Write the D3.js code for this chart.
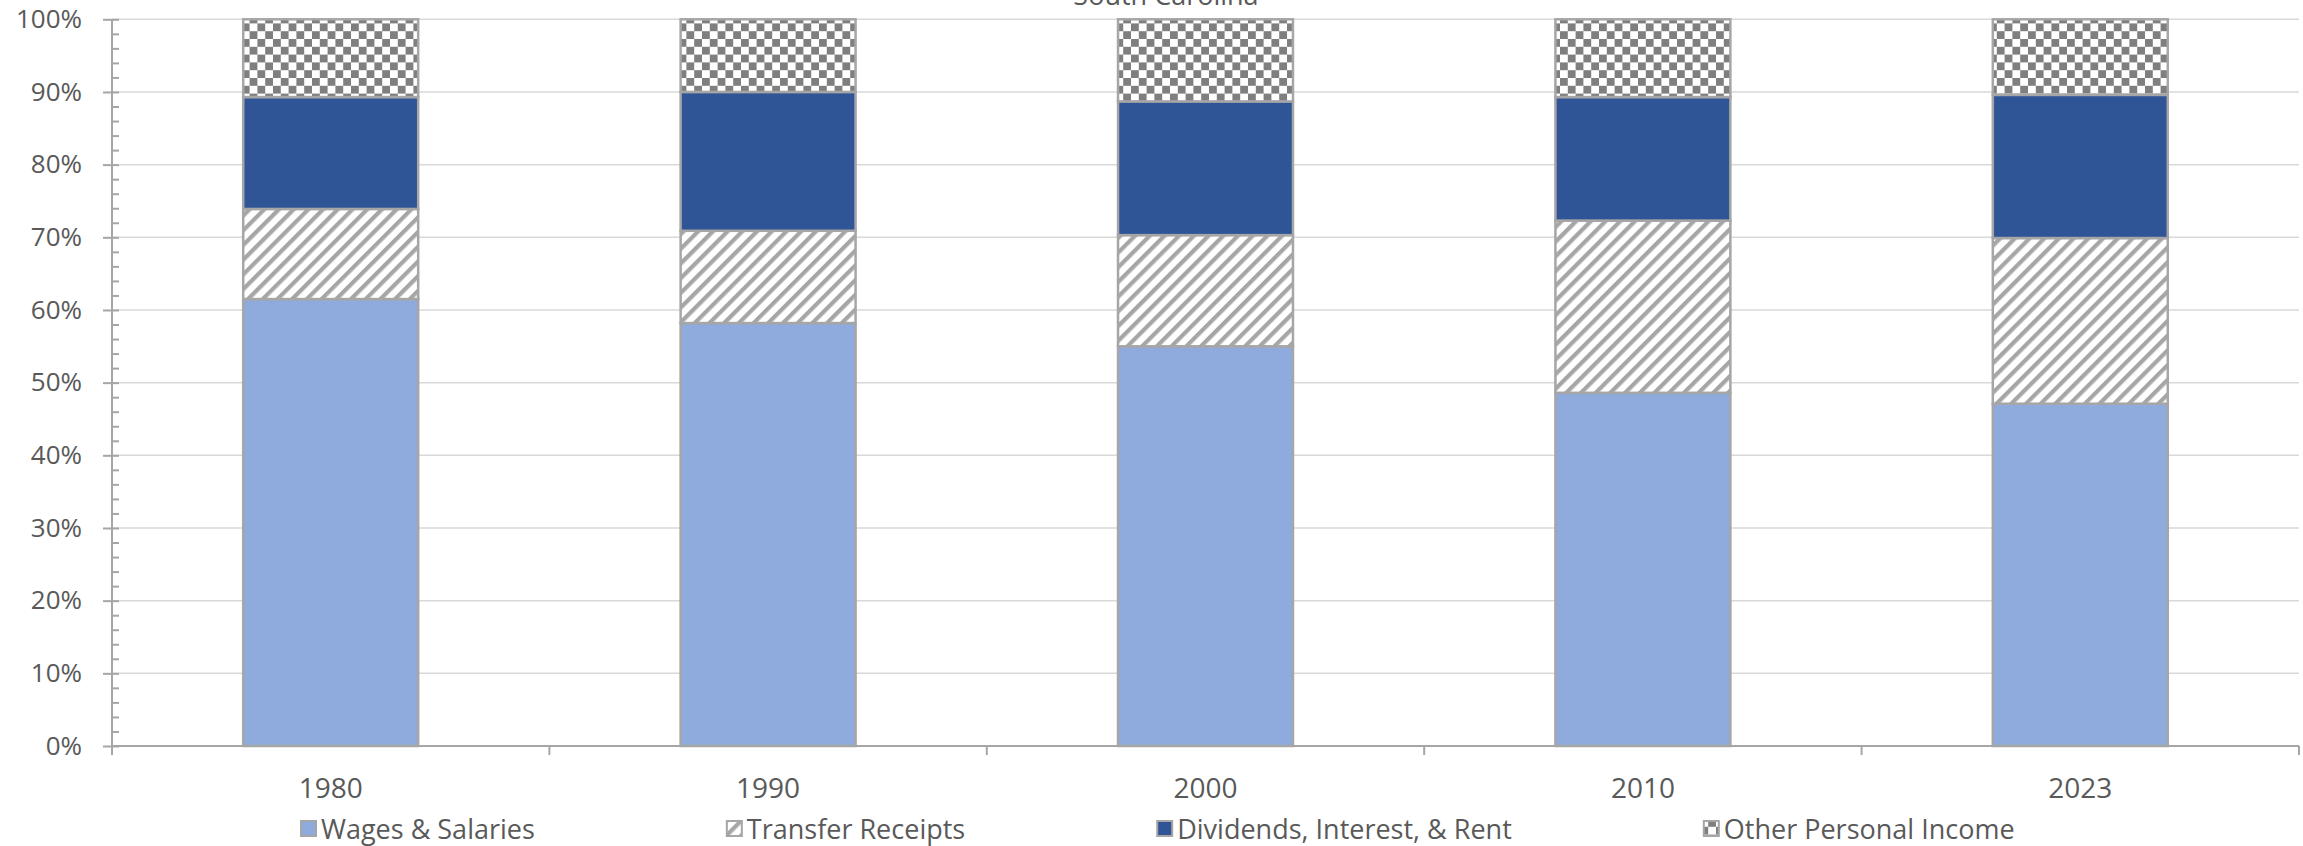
<!DOCTYPE html>
<html>
<head>
<meta charset="utf-8">
<script src="https://cdnjs.cloudflare.com/ajax/libs/d3/7.8.5/d3.min.js"></script>
<style>
  body { margin: 0; background: #fff; }
  text { font-family: 'Open Sans', sans-serif; fill: #595959; }
</style>
</head>
<body>
<svg width="2303" height="846"></svg>
<script>
// data (share of personal income, %)
const years = ['1980', '1990', '2000', '2010', '2023'];
const wages = [61.5, 58.2, 55.0, 48.6, 47.1];
const transfers = [12.4, 12.7, 15.3, 23.7, 22.8];
const dividends = [15.4, 19.1, 18.4, 17.0, 19.7];
const other = [10.7, 10.0, 11.3, 10.7, 10.4];
const seriesNames = ['Wages & Salaries', 'Transfer Receipts', 'Dividends, Interest, & Rent', 'Other Personal Income'];
const yTicks = [0, 10, 20, 30, 40, 50, 60, 70, 80, 90, 100];
const yMinorTicks = d3.range(0, 101, 2);
const title = 'South Carolina';

const svg = d3.select('svg');

const margin = { left: 112, right: 2299, top: 19.3, bottom: 746 };

const rows = years.map((yr, i) => ({
  year: yr,
  [seriesNames[0]]: wages[i],
  [seriesNames[1]]: transfers[i],
  [seriesNames[2]]: dividends[i],
  [seriesNames[3]]: other[i]
}));
const stacked = d3.stack().keys(seriesNames)(rows);

const x = d3.scaleBand()
  .domain(years)
  .range([margin.left, margin.right])
  .paddingInner(0.6)
  .paddingOuter(0.3);
const xCat = d3.scaleBand().domain(years).range([margin.left, margin.right]).padding(0);
const y = d3.scaleLinear().domain([0, 100]).range([margin.bottom, margin.top]);

//patterns
const defs = svg.append('defs');
const sq = 7.8;
const checker = defs.append('pattern')
  .attr('id', 'checker')
  .attr('patternUnits', 'userSpaceOnUse')
  .attr('width', sq * 2).attr('height', sq * 2);
checker.append('rect').attr('width', sq * 2).attr('height', sq * 2).attr('fill', '#fff');
checker.append('rect').attr('width', sq).attr('height', sq).attr('fill', '#7f7f7f');
checker.append('rect').attr('x', sq).attr('y', sq).attr('width', sq).attr('height', sq).attr('fill', '#7f7f7f');

const stripe = defs.append('pattern')
  .attr('id', 'stripes')
  .attr('patternUnits', 'userSpaceOnUse')
  .attr('width', 10.4).attr('height', 10.4)
  .attr('patternTransform', 'rotate(45)');
stripe.append('rect').attr('width', 10.4).attr('height', 10.4).attr('fill', '#fff');
stripe.append('rect').attr('width', 4.2).attr('height', 10.4).attr('fill', '#a6a6a6');

const fills = ['#8faadc', 'url(#stripes)', '#2f5597', 'url(#checker)'];

//gridlines
svg.append('g')
  .selectAll('line')
  .data(yTicks.filter(d => d > 0))
  .enter().append('line')
  .attr('x1', margin.left).attr('x2', margin.right)
  .attr('y1', d => y(d)).attr('y2', d => y(d))
  .attr('stroke', '#d9d9d9')
  .attr('stroke-width', 1.5);

//bars
svg.append('g')
  .selectAll('g')
  .data(stacked)
  .enter().append('g')
  .attr('fill', (d, i) => fills[i])
  .selectAll('rect')
  .data(d => d)
  .enter().append('rect')
  .attr('x', d => x(d.data.year))
  .attr('width', x.bandwidth())
  .attr('y', d => y(d[1]))
  .attr('height', d => y(d[0]) - y(d[1]))
  .attr('stroke', '#a6a6a6')
  .attr('stroke-width', 2.5);

//y axis
const yAxis = svg.append('g')
  .attr('transform', `translate(${margin.left},0)`)
  .call(d3.axisLeft(y).tickValues(yTicks).tickSize(9).tickSizeOuter(0).tickPadding(21).tickFormat(d => d + '%'));
yAxis.select('.domain').remove();
yAxis.selectAll('line').attr('stroke', '#a6a6a6').attr('stroke-width', 2);
yAxis.selectAll('text').style('font-size', '26px').attr('fill', '#595959');

const yMinor = svg.append('g')
  .attr('transform', `translate(${margin.left},0)`)
  .call(d3.axisRight(y).tickValues(yMinorTicks).tickSize(7).tickSizeOuter(0).tickFormat(''));
yMinor.select('.domain').remove();
yMinor.selectAll('line').attr('stroke', '#a6a6a6').attr('stroke-width', 2);

svg.append('line')
  .attr('x1', margin.left).attr('x2', margin.left)
  .attr('y1', margin.top).attr('y2', margin.bottom + 9)
  .attr('stroke', '#a6a6a6').attr('stroke-width', 2);

//x axis
svg.append('line')
  .attr('x1', margin.left).attr('x2', margin.right)
  .attr('y1', margin.bottom).attr('y2', margin.bottom)
  .attr('stroke', '#a6a6a6').attr('stroke-width', 2);

const bounds = years.map(d => xCat(d)).concat([xCat(years[years.length - 1]) + xCat.bandwidth()]);
svg.append('g')
  .selectAll('line')
  .data(bounds)
  .enter().append('line')
  .attr('x1', d => d).attr('x2', d => d)
  .attr('y1', margin.bottom).attr('y2', margin.bottom + 9)
  .attr('stroke', '#a6a6a6').attr('stroke-width', 2);

svg.append('g')
  .selectAll('text')
  .data(years)
  .enter().append('text')
  .attr('x', d => xCat(d) + xCat.bandwidth() / 2)
  .attr('y', 798)
  .attr('text-anchor', 'middle')
  .style('font-size', '28px')
  .text(d => d);

//title (cut off at the top, as in the source)
svg.append('text')
  .attr('x', 1166)
  .attr('y', 5)
  .attr('text-anchor', 'middle')
  .style('font-size', '27px')
  .text(title);

//legend
const legend = svg.append('g');
let lx = 301;
seriesNames.forEach((name, i) => {
  legend.append('rect')
    .attr('x', lx).attr('y', 821)
    .attr('width', 15).attr('height', 15)
    .attr('fill', fills[i])
    .attr('stroke', '#a6a6a6')
    .attr('stroke-width', 2);
  const t = legend.append('text')
    .attr('x', lx + 20)
    .attr('y', 839)
    .style('font-size', '27px')
    .text(name);
  lx += 20 + t.node().getComputedTextLength() + 192;
});
</script>
</body>
</html>
